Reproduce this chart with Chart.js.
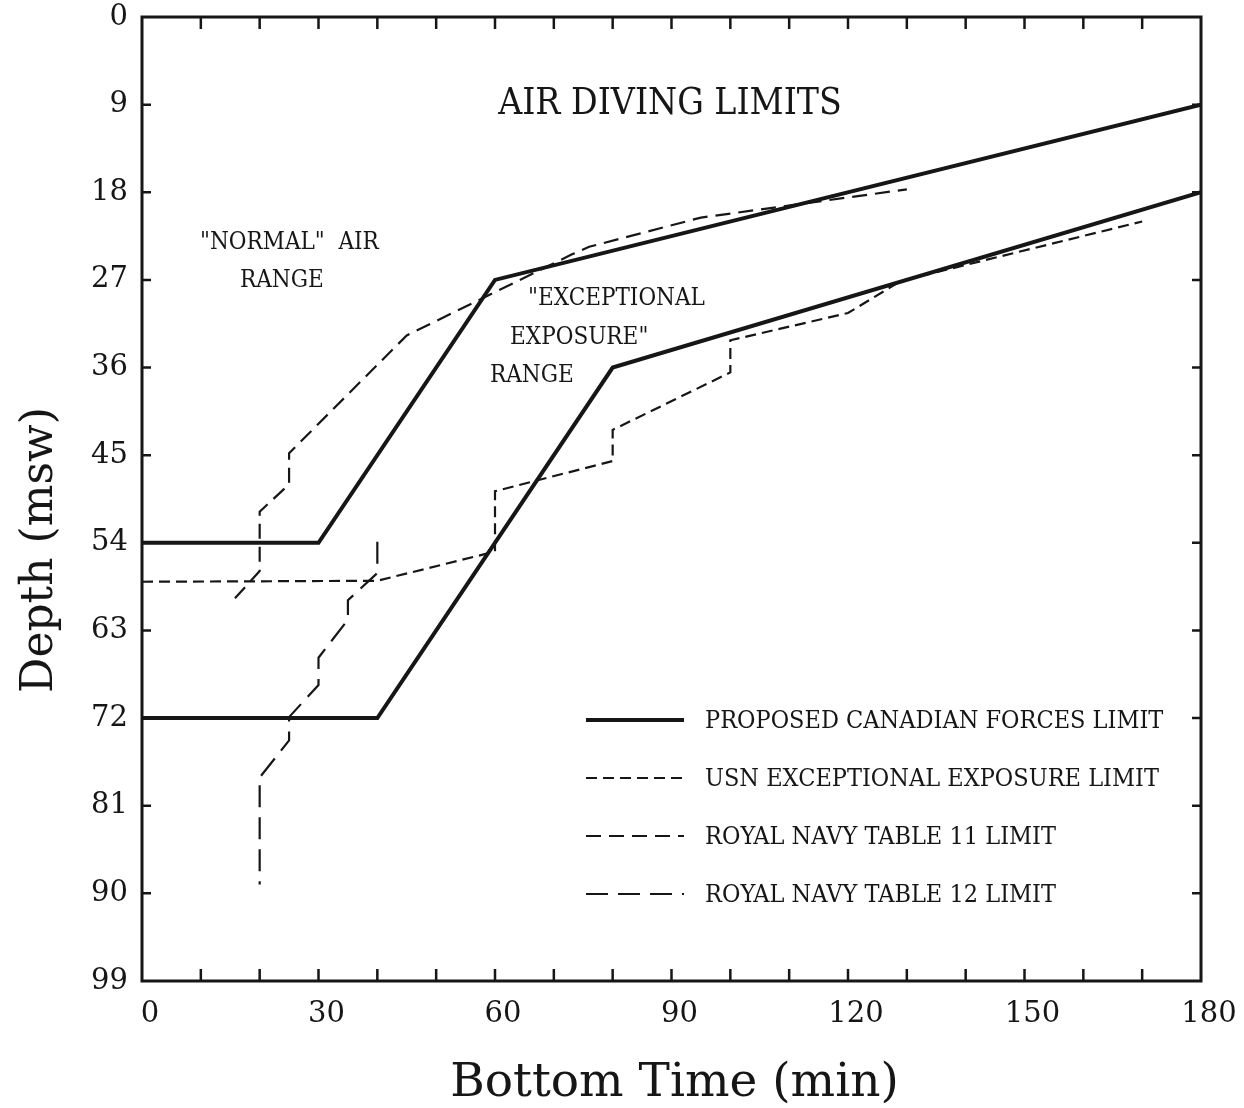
<!DOCTYPE html>
<html>
<head>
<meta charset="utf-8">
<title>Air Diving Limits</title>
<script src="https://cdn.jsdelivr.net/npm/chart.js@4"></script>
<style>
    body { margin: 0; background: #fff; }
    #wrap { width: 1244px; height: 1108px; position: relative; }
</style>
</head>
<body>
<div id="wrap"><canvas id="limitsChart"></canvas></div>
<script>

/*  Donnees  */

const cfUpperTime  = [0, 30, 60, 180];
const cfUpperDepth = [54, 54, 27, 9];

const cfLowerTime  = [0, 40, 80, 180];
const cfLowerDepth = [72, 72, 36, 18];

const usnTime  = [0, 40, 60, 60, 80, 80, 100, 100, 120, 129, 170];
const usnDepth = [58, 57.9, 54.9, 48.7, 45.6, 42.4, 36.5, 33.2, 30.4, 27.1, 21];

const rn11Time  = [15.8, 20, 20, 25, 25, 45, 73, 76, 95, 130];
const rn11Depth = [59.7, 56.9, 50.8, 48, 44.8, 32.7, 24.4, 23.6, 20.6, 17.7];

const rn12Time  = [40, 40, 35, 35, 30, 30, 25, 25, 20, 20];
const rn12Depth = [53.9, 57.1, 59.9, 61.9, 65.8, 68.6, 71.9, 74.3, 78.1, 89.1];

const timeTicks  = [0, 30, 60, 90, 120, 150, 180];
const depthTicks = [0, 9, 18, 27, 36, 45, 54, 63, 72, 81, 90, 99];
const minorTimeStep = 10;

const legendLabels = [
    "PROPOSED CANADIAN FORCES LIMIT",
    "USN EXCEPTIONAL EXPOSURE LIMIT",
    "ROYAL NAVY TABLE 11 LIMIT",
    "ROYAL NAVY TABLE 12 LIMIT"
];

const INK = "#161616";
const SERIF = "'DejaVu Serif', serif";
const SERIF_C = "'DejaVu Serif Condensed', 'DejaVu Serif', serif";


function toPoints(xs, ys) {
    return xs.map((x, i) => ({ x: x, y: ys[i] }));
}

function lineSet(label, xs, ys, width, dash) {
    return {
        label: label,
        data: toPoints(xs, ys),
        showLine: true,
        borderColor: INK,
        backgroundColor: INK,
        borderWidth: width,
        borderDash: dash,
        pointRadius: 0,
        tension: 0,
        fill: false
    };
}

const datasets = [
    lineSet(legendLabels[0], cfUpperTime, cfUpperDepth, 4, []),
    lineSet(legendLabels[0], cfLowerTime, cfLowerDepth, 4, []),
    lineSet(legendLabels[1], usnTime, usnDepth, 2.2, [11, 6]),
    lineSet(legendLabels[2], rn11Time, rn11Depth, 2.2, [15, 8]),
    lineSet(legendLabels[3], rn12Time, rn12Depth, 2.2, [22, 10])
];

// dataset qui sert de modele pour chaque ligne de legende
const legendSource = [0, 2, 3, 4];


/*  Cadre, graduations, textes  */

const decorPlugin = {
    id: "decor",
    afterDraw(chart) {
        const ctx = chart.ctx;
        const a = chart.chartArea;
        const xs = chart.scales.x;
        const ys = chart.scales.y;

        ctx.save();
        ctx.strokeStyle = INK;
        ctx.fillStyle = INK;

        // cadre
        ctx.lineWidth = 3;
        ctx.strokeRect(a.left, a.top, a.right - a.left, a.bottom - a.top);

        // graduations vers l'interieur
        ctx.lineWidth = 2.5;
        ctx.beginPath();
        for (let t = minorTimeStep; t < timeTicks[timeTicks.length - 1]; t += minorTimeStep) {
            let px = xs.getPixelForValue(t);
            ctx.moveTo(px, a.bottom); ctx.lineTo(px, a.bottom - 12);
            ctx.moveTo(px, a.top);    ctx.lineTo(px, a.top + 12);
        }
        depthTicks.slice(1, -1).forEach(d => {
            let py = ys.getPixelForValue(d);
            ctx.moveTo(a.left, py);  ctx.lineTo(a.left + 9, py);
            ctx.moveTo(a.right, py); ctx.lineTo(a.right - 9, py);
        });
        ctx.stroke();

        // titres des axes
        ctx.textBaseline = "alphabetic";
        ctx.textAlign = "center";
        ctx.font = "47px " + SERIF;
        ctx.fillText("Bottom Time (min)", (a.left + a.right) / 2 + 3, 1096);

        ctx.save();
        ctx.translate(52, 550);
        ctx.rotate(-Math.PI / 2);
        ctx.font = "44px " + SERIF;
        ctx.fillText("Depth (msw)", 0, 0);
        ctx.restore();

        // annotations
        ctx.font = "37px " + SERIF_C;
        ctx.fillText("AIR DIVING LIMITS", 670, 114);

        ctx.textAlign = "left";
        ctx.font = "24px " + SERIF_C;
        ctx.fillText("\"NORMAL\"  AIR", 200, 249);
        ctx.fillText("RANGE", 240, 287);
        ctx.fillText("\"EXCEPTIONAL", 528, 305);
        ctx.fillText("EXPOSURE\"", 510, 344);
        ctx.fillText("RANGE", 490, 382);

        // legende
        const rows = [720, 778, 836, 894];
        ctx.font = "25px " + SERIF_C;
        ctx.textBaseline = "middle";
        legendSource.forEach((di, i) => {
            const ds = chart.data.datasets[di];
            ctx.lineWidth = ds.borderWidth;
            ctx.setLineDash(ds.borderDash);
            ctx.beginPath();
            ctx.moveTo(586, rows[i]);
            ctx.lineTo(684, rows[i]);
            ctx.stroke();
            ctx.setLineDash([]);
            ctx.fillText(legendLabels[i], 705, rows[i] + 1);
        });

        ctx.restore();
    }
};


/*  Graphique  */

new Chart(document.getElementById("limitsChart"), {
    type: "scatter",
    data: { datasets: datasets },
    options: {
        responsive: true,
        maintainAspectRatio: false,
        animation: false,
        layout: { padding: { top: 17, right: 43, left: 0, bottom: 0 } },
        plugins: {
            legend: { display: false },
            tooltip: { enabled: false }
        },
        scales: {
            x: {
                type: "linear",
                min: timeTicks[0],
                max: timeTicks[timeTicks.length - 1],
                grid: { display: false },
                border: { display: false },
                afterFit: s => { s.height = 127; },
                ticks: {
                    stepSize: 30,
                    autoSkip: false,
                    maxRotation: 0,
                    padding: 8,
                    labelOffset: 8,
                    color: INK,
                    font: { family: SERIF, size: 29 }
                }
            },
            y: {
                type: "linear",
                reverse: true,
                min: depthTicks[0],
                max: depthTicks[depthTicks.length - 1],
                grid: { display: false },
                border: { display: false },
                afterFit: s => { s.width = 142; s.paddingTop = 0; s.paddingBottom = 0; },
                ticks: {
                    stepSize: 9,
                    autoSkip: false,
                    padding: 6,
                    color: INK,
                    font: { family: SERIF, size: 29 }
                }
            }
        }
    },
    plugins: [decorPlugin]
});

</script>
</body>
</html>
